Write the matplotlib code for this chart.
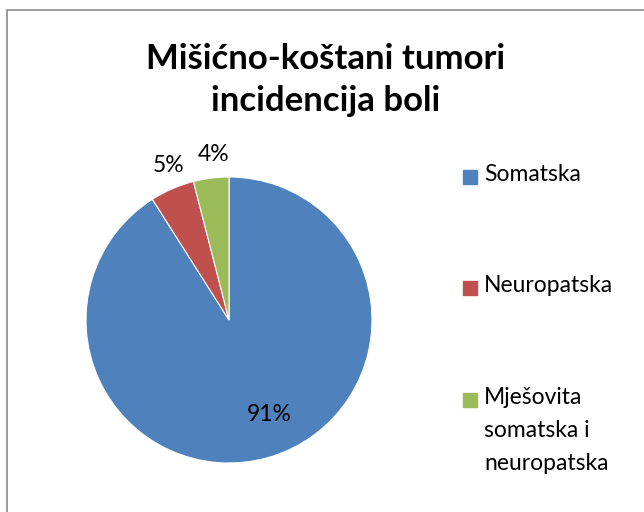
import matplotlib.pyplot as plt
from matplotlib.patches import Rectangle
import numpy as np

plt.rcParams['font.family'] = ['Lato', 'DejaVu Sans']

title = "Mišićno-koštani tumori\nincidencija boli"
categories = ["Somatska", "Neuropatska", "Mješovita\nsomatska i\nneuropatska"]
values = [91, 5, 4]
colors = ["#4F81BD", "#C0504D", "#9BBB59"]

W, H = 644, 512
fig = plt.figure(figsize=(W / 100, H / 100), dpi=100)

# chart frame (cropped on the right and bottom like the original)
fig.patches.append(Rectangle((6.5 / W, -0.05), 1.1, 1 - 9.5 / H + 0.05,
                             transform=fig.transFigure, fill=False,
                             edgecolor="#8a8a8a", lw=1.2))

fig.text(326 / W, 1 - 80 / H, title, ha="center", va="center",
         fontsize=25, fontweight="bold", linespacing=1.4)

# pie axes: centre (229, 320), radius 143 px
cx, cy, r = 229, 320, 143
ax = fig.add_axes([(cx - r) / W, (H - cy - r) / H, 2 * r / W, 2 * r / H])
wedges, _ = ax.pie(values, colors=colors, startangle=90, counterclock=False,
                   radius=1, wedgeprops=dict(linewidth=0.8, edgecolor="white"))
ax.set_xlim(-1, 1)
ax.set_ylim(-1, 1)
ax.set_aspect("equal")
ax.axis("off")

# data labels
total = sum(values)
for w, v in zip(wedges, values):
    mid = np.deg2rad((w.theta1 + w.theta2) / 2)
    pct = f"{round(100 * v / total)}%"
    if v / total > 0.5:
        d = 0.72
        mid += np.deg2rad(7)
    else:
        d = 1.16
        mid -= np.deg2rad(2)
    ax.text(d * np.cos(mid), d * np.sin(mid), pct, ha="center", va="center",
            fontsize=16.5, clip_on=False)

# legend
entry_y = [177, 288, 400]
for lab, col, y in zip(categories, colors, entry_y):
    fig.patches.append(Rectangle((463 / W, 1 - (y + 7) / H), 14 / W, 14 / H,
                                 transform=fig.transFigure, color=col))
    fig.text(484 / W, 1 - (y - 13) / H, lab, ha="left", va="top",
             fontsize=16.5, linespacing=1.7)

fig.savefig("out.png", dpi=100)
